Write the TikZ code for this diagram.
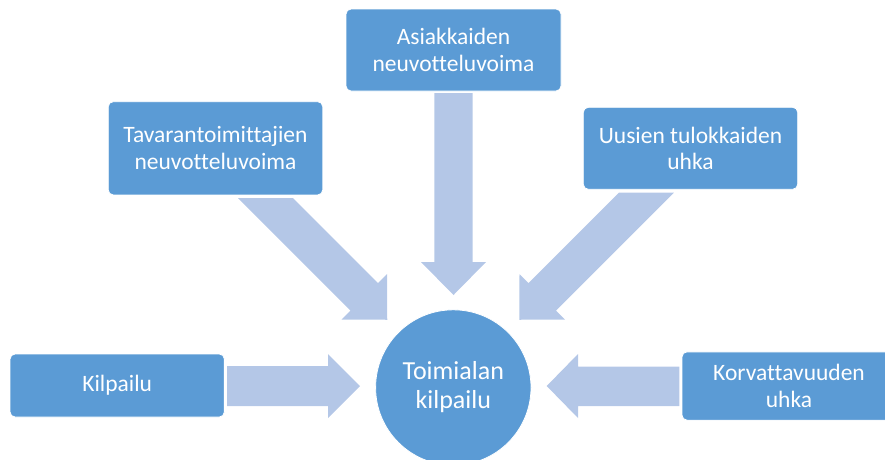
\documentclass[tikz,border=0pt]{standalone}
\usepackage{fontspec}
\setmainfont{Carlito}[Ligatures=NoCommon]
\definecolor{boxblue}{HTML}{5B9BD5}
\definecolor{arrowblue}{HTML}{B4C7E7}
\begin{document}
\begin{tikzpicture}[x=1pt,y=-1pt,
  forcebox/.style={rectangle, rounded corners=5pt, fill=boxblue, draw=white, line width=0.8pt,
    text=white, align=center, inner sep=0pt,
    font=\fontsize{23.5}{26.7}\selectfont},
  centre/.style={circle, fill=boxblue, draw=white, line width=0.8pt, text=white, align=center,
    inner sep=0pt, minimum size=155.4pt, font=\fontsize{26}{29}\selectfont},
  blockarrow/.style={fill=arrowblue, draw=none}]
\useasboundingbox (0,0) rectangle (885,459);
\clip (0,0) rectangle (885,459);

% block arrows
\path[blockarrow] (434.3,93) -- (472.7,93) -- (472.7,262) -- (486,262) -- (453.5,295)
  -- (421,262) -- (434.3,262) -- cycle;
\path[blockarrow] (227,366) -- (328,366) -- (328,354) -- (360,386) -- (328,418)
  -- (328,406) -- (227,406) -- cycle;
\path[blockarrow] (679.3,366.5) -- (578,366.5) -- (578,354) -- (546.7,386) -- (578,418)
  -- (578,406) -- (679.3,406) -- cycle;
\path[blockarrow] (238,198) -- (293,198) -- (378,283) -- (387,274) -- (387.25,319.75)
  -- (341.5,319.5) -- (350.5,310.5) -- cycle;
\path[blockarrow] (673.8,192.7) -- (618.8,192.7) -- (528.5,283) -- (519.5,274) -- (519.25,319.75)
  -- (565,319.5) -- (556,310.5) -- cycle;

% boxes
\node[forcebox, minimum width=215pt, minimum height=82pt] (asiakkaat) at (453.5,50)
  {Asiakkaiden\\neuvotteluvoima};
\node[forcebox, minimum width=214.5pt, minimum height=93.3pt] (toimittajat) at (215.5,148.3)
  {Tavarantoimittajien\\neuvotteluvoima};
\node[forcebox, minimum width=214.4pt, minimum height=82pt] (tulokkaat) at (690.5,148.3)
  {Uusien tulokkaiden\\uhka};
\node[forcebox, minimum width=214.3pt, minimum height=63pt] (kilpailu) at (117.2,385.5)
  {Kilpailu};
\node[forcebox, minimum width=214pt, minimum height=68.3pt] (korvattavuus) at (789,386)
  {Korvattavuuden\\uhka};
\node[centre] (toimiala) at (453.3,387.5) {Toimialan\\kilpailu};
\end{tikzpicture}
\end{document}
